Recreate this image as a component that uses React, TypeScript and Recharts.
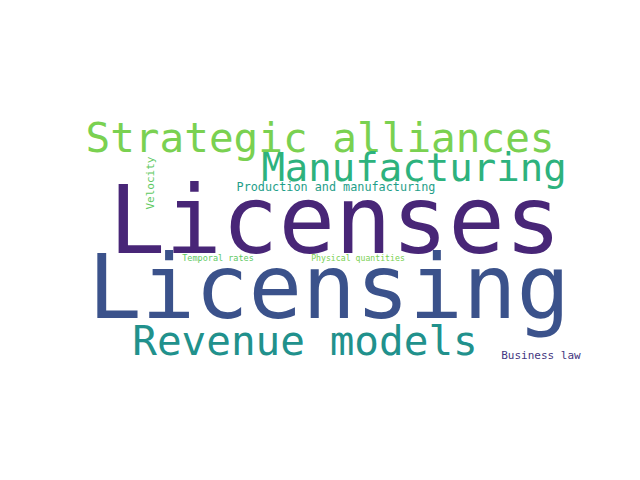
import React from "react";
import { ScatterChart, Scatter, XAxis, YAxis } from "recharts";

const words = ["Licensing", "Licenses", "Strategic alliances", "Manufacturing", "Revenue models", "Production and manufacturing", "Velocity", "Temporal rates", "Physical quantities", "Business law"];
const weights = [89, 94, 41, 39, 41, 11.8, 11, 8.5, 8.2, 11];
const colors = ["#3b528b", "#482677", "#7ad151", "#2db27d", "#21918c", "#1f9e89", "#5ec962", "#5ec962", "#7ad151", "#453781"];
const xs = [329, 335, 320, 414, 305, 336, 150, 218, 358, 541];
const ys = [318, 253, 152, 181, 355, 191, 183, 261, 261, 359];
const rotations = [0, 0, 0, 0, 0, 0, -90, 0, 0, 0];

const data = words.map((w, i) => ({ x: xs[i], y: ys[i], word: w, size: weights[i], color: colors[i], rot: rotations[i] }));

const WordShape = (props: any) => {
  const { cx, cy, payload } = props;
  return (
    <text
      x={cx}
      y={cy}
      textAnchor="middle"
      dominantBaseline={payload.rot ? "central" : "alphabetic"}
      fontFamily="DejaVu Sans Mono"
      fontSize={payload.size}
      fill={payload.color}
      transform={payload.rot ? `rotate(${payload.rot} ${cx} ${cy})` : undefined}
    >
      {payload.word}
    </text>
  );
};

export default function App() {
  return (
    <div style={{ position: "absolute", left: 0, top: 0, background: "#fff" }}>
      <ScatterChart width={640} height={480} margin={{ top: 0, right: 0, bottom: 0, left: 0 }}>
        <XAxis type="number" dataKey="x" domain={[0, 640]} hide />
        <YAxis type="number" dataKey="y" domain={[0, 480]} reversed hide />
        <Scatter data={data} shape={WordShape} isAnimationActive={false} />
      </ScatterChart>
    </div>
  );
}
